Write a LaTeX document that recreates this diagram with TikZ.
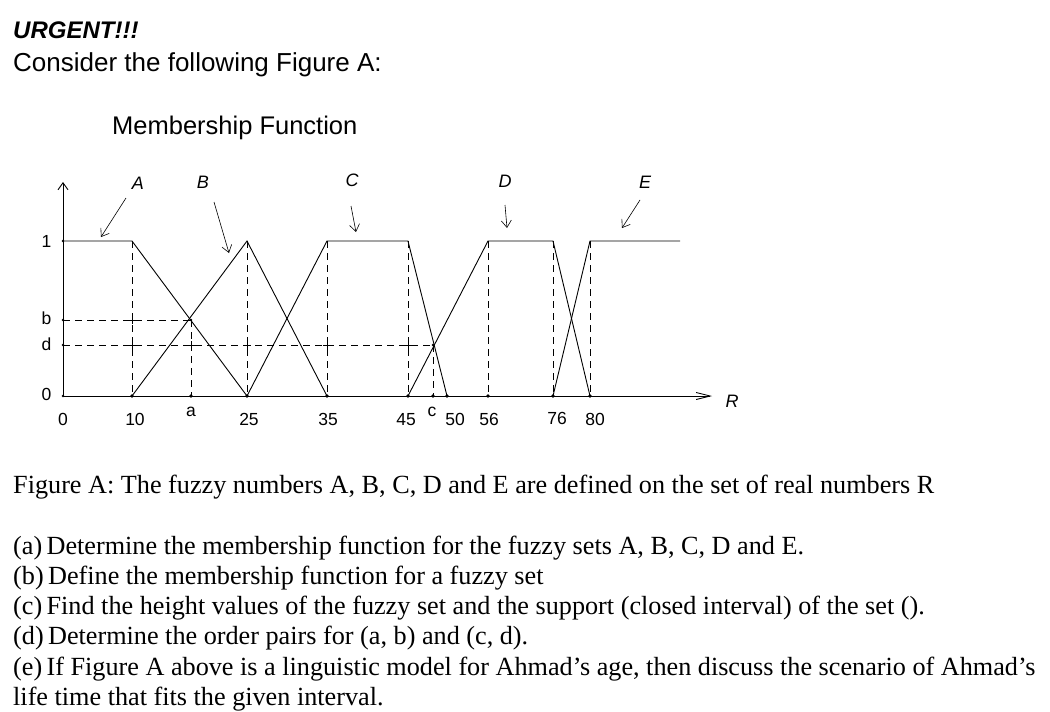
\documentclass[tikz,border=0pt]{standalone}
\usepackage{fontspec}
\setmainfont{Liberation Serif}
\setsansfont{Liberation Sans}
\usetikzlibrary{arrows.meta}
\begin{document}
\begin{tikzpicture}[x=1pt,y=-1pt,
  curve/.style={line width=0.9pt},
  dsh/.style={dashed,dash pattern=on 7pt off 5pt,line width=0.8pt},
  ax/.style={line width=0.9pt},
  lbl/.style={font=\sffamily\fontsize{17.5}{18}\selectfont},
  nm/.style={font=\sffamily\itshape\fontsize{18}{18}\selectfont},
  pt/.style={circle,fill,inner sep=1.4pt},
  ptr/.style={line width=0.6pt,-{Straight Barb[length=7pt,width=10pt]}},
  txt/.style={anchor=base west,inner sep=0,font=\fontsize{26.2}{28}\selectfont}]
\useasboundingbox (0,0) rectangle (1050,712);
\node[anchor=base west,inner sep=0,font=\sffamily\bfseries\itshape\fontsize{24}{26}\selectfont] (t1) at (13,38) {URGENT!!!};
\node[anchor=base west,inner sep=0,font=\sffamily\fontsize{26}{28}\selectfont] (t2) at (13,71) {Consider the following Figure A:};
\node[anchor=base west,inner sep=0,font=\sffamily\fontsize{25.5}{28}\selectfont] (t3) at (112,134) {Membership Function};
\coordinate (O) at (63,396);
\coordinate (ytop) at (63,182);
\coordinate (xend) at (712,396);
\draw[ax,-{Straight Barb[length=7pt,width=10pt]}] (O) -- (ytop);
\draw[ax,-{Straight Barb[length=14pt,width=7pt]}] (O) -- (xend);
\node[nm,anchor=west] (R) at (722,401) {R};
\node[pt,inner sep=1pt] (y1) at (63,241) {};
\node[pt,inner sep=1pt] (yb) at (63,320) {};
\node[pt,inner sep=1pt] (yd) at (63,345) {};
\node[pt,inner sep=1pt] (y0) at (63,396) {};
\node[lbl,anchor=east] at (55,241) {1};
\node[lbl,anchor=east] at (55,318) {b};
\node[lbl,anchor=east] at (55,344) {d};
\node[lbl,anchor=east] at (55,394) {0};
\foreach \n/\x in {p10/132,pa/191,p25/247,p35/327,p45/408,pc/433,p50/447,p56/488,p76/553,p80/590}
  \node[pt] (\n) at (\x,396) {};
\foreach \t/\x/\y in {0/63/419,10/135/419,a/191/412,25/249/419,35/328/419,45/406/420,c/432/412,50/455/419,56/489/419,76/557/418,80/595/419}
  \node[lbl] at (\x,\y) {\t};
\draw[dsh] (132,241) -- (p10.center);
\draw[dsh] (191,320) -- (pa.center);
\draw[dsh] (247,241) -- (p25.center);
\draw[dsh] (327,241) -- (p35.center);
\draw[dsh] (408,241) -- (p45.center);
\draw[dsh] (433,345) -- (pc.center);
\draw[dsh] (488,241) -- (p56.center);
\draw[dsh] (553,241) -- (p76.center);
\draw[dsh] (590,241) -- (p80.center);
\draw[dsh] (yb.center) -- (191,320);
\draw[dsh] (yd.center) -- (433,345);
\foreach \x/\y in {132/320,132/345,191/345,247/345,327/345,408/345}
  \draw[line width=0.6pt] (\x-4,\y) -- (\x+4,\y) (\x,\y-4) -- (\x,\y+4);
\node[pt,inner sep=1pt] at (191,320) {};
\node[pt,inner sep=1pt] at (433,345) {};
\draw[curve] (y1.center) -- (132,241) -- (p25.center);
\draw[curve] (p10.center) -- (247,241) -- (p35.center);
\draw[curve] (p25.center) -- (327,241) -- (408,241) -- (p50.center);
\draw[curve] (p45.center) -- (488,241) -- (553,241) -- (p80.center);
\draw[curve] (p76.center) -- (590,241) -- (680,241);
\node[nm] (A) at (138,183) {A};
\node[nm] (B) at (203,182) {B};
\node[nm] (C) at (352,180) {C};
\node[nm] (D) at (505,181) {D};
\node[nm] (E) at (645,182) {E};
\draw[ptr] (126,198) -- (101,237);
\draw[ptr] (214,202) -- (229,253);
\draw[ptr] (351,206) -- (356,232);
\draw[ptr] (505,205) -- (507,228);
\draw[ptr] (640,200) -- (622,228);
\node[txt] (f) at (13,493) {Figure A: The fuzzy numbers A, B, C, D and E are defined on the set of real numbers R};
\node[txt] (qa) at (13,554) {(a)\,Determine the membership function for the fuzzy sets A, B, C, D and E.};
\node[txt] (qb) at (13,584) {(b)\,Define the membership function for a fuzzy set};
\node[txt] (qc) at (13,614) {(c)\,Find the height values of the fuzzy set and the support (closed interval) of the set ().};
\node[txt] (qd) at (13,644) {(d)\,Determine the order pairs for (a, b) and (c, d).};
\node[txt] (qe) at (13,675) {(e)\,If Figure A above is a linguistic model for Ahmad\char"27 s age, then discuss the scenario of Ahmad\char"27 s};
\node[txt] (qe2) at (13,705) {life time that fits the given interval.};
\end{tikzpicture}
\end{document}
